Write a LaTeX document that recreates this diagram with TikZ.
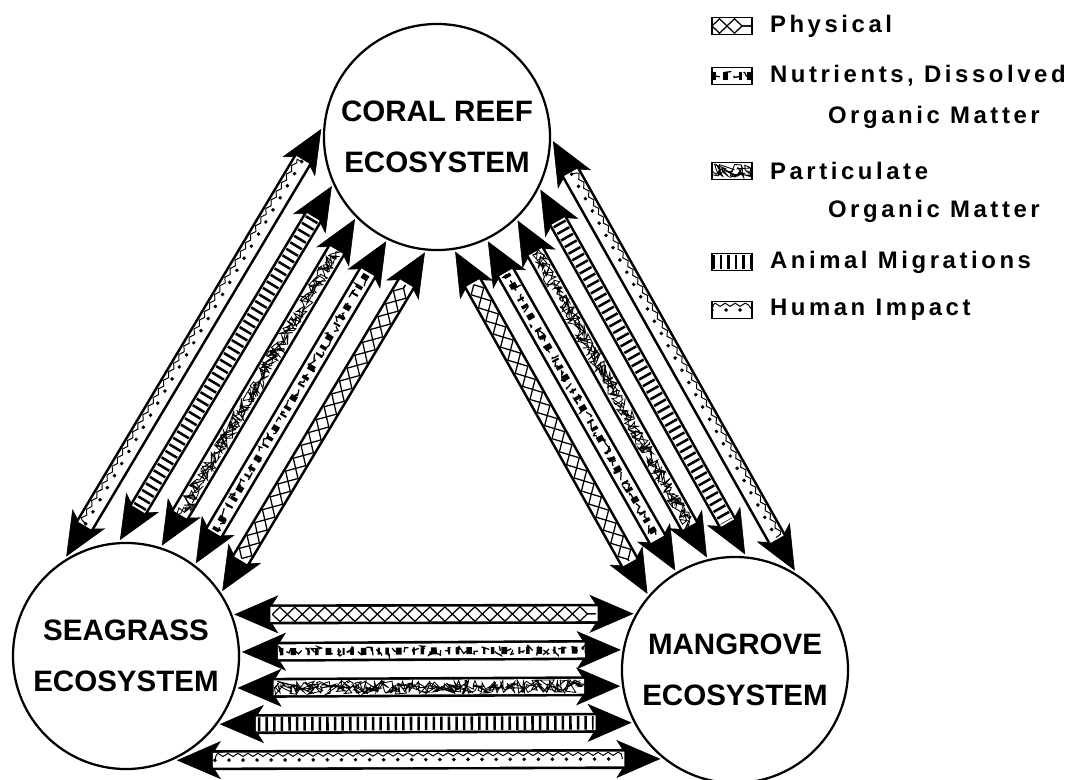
\documentclass[tikz,border=0pt]{standalone}
\usepackage{fontspec}
\setmainfont{Liberation Sans}
\newfontfamily\legendfont[LetterSpace=15]{Liberation Sans}
\usetikzlibrary{arrows.meta, positioning, calc, decorations.pathmorphing}

\tikzset{
  head/.tip={Stealth[length=1.1cm,width=0.95cm,inset=0.3cm,line width=0.4pt]},
  eco/.style={circle,draw,line width=1.6pt,minimum size=5.65cm,inner sep=0pt,
    outer sep=0.075cm,align=center,font=\fontsize{21}{36}\selectfont\bfseries},
  band/.style={line width=0.5cm,head-head},
  bandin/.style={line width=0.37cm,white},
  zz/.style={line width=0.9pt,decorate,
    decoration={zigzag,amplitude=0.18cm,segment length=0.75cm}},
  spots/.style={line width=5pt,dash pattern=on 2.5pt off 5pt on 4pt off 8pt on 1.5pt off 4pt},
  squig/.style={line width=0.9pt,dash pattern=on 6pt off 4pt,decorate,
    decoration={random steps,segment length=2.5pt,amplitude=0.13cm}},
  scribble/.style={line width=0.6pt,decorate,
    decoration={random steps,segment length=1.1pt,amplitude=0.17cm}},
  rungs/.style={line width=0.34cm,dash pattern=on 1.8pt off 3.6pt},
  dotrow/.style={line width=2.8pt,line cap=round,dash pattern=on 0pt off 10pt},
  wave/.style={line width=0.7pt,decorate,
    decoration={snake,amplitude=0.04cm,segment length=0.25cm,raise=0.13cm}},
  icon/.style={draw,line width=1.2pt,minimum width=1cm,minimum height=0.43cm,
    inner sep=0pt,outer sep=0pt},
  legend/.style={inner sep=0pt,outer sep=0pt,
    font=\legendfont\fontsize{17}{20}\selectfont\bfseries}
}

% fill patterns of the bands
\newcommand\physpat[2]{\draw[zz] (#1) -- (#2); \draw[zz,decoration={mirror}] (#1) -- (#2);}
\newcommand\nutrpat[2]{\draw[spots] (#1) -- (#2); \draw[squig] (#1) -- (#2);}
\newcommand\partpat[2]{\draw[scribble] (#1) -- (#2); \draw[scribble] (#2) -- (#1);}
\newcommand\animpat[2]{\draw[rungs] (#1) -- (#2);}
\newcommand\humpat[2]{\draw[dotrow] (#1) -- (#2); \draw[wave] (#1) -- (#2);}

% double headed flux band between two border points
\newcommand\flux[3]{%
  \draw[band] (#1) -- (#2);
  \draw[bandin] ($(#1)!0.9cm!(#2)$) -- ($(#2)!0.9cm!(#1)$);
  \coordinate (p) at ($(#1)!0.95cm!(#2)$);
  \coordinate (q) at ($(#2)!0.95cm!(#1)$);
  #3{p}{q}}

\begin{document}
\begin{tikzpicture}[x=0.025cm,y=-0.025cm]
  \pgfmathsetseed{3}
  \useasboundingbox (0,0) rectangle (1080,780);

  \node[eco] (coral) at (437,137) {CORAL REEF\\ECOSYSTEM};
  \node[eco] (seagrass) at (126,656) {SEAGRASS\\ECOSYSTEM};
  \node[eco] (mangrove) at (735,670) {MANGROVE\\ECOSYSTEM};

  % seagrass -- coral reef
  \flux{seagrass.121.7}{coral.176.5}{\humpat}
  \flux{seagrass.93.2}{coral.205.0}{\animpat}
  \flux{seagrass.72.5}{coral.225.6}{\partpat}
  \flux{seagrass.53.6}{coral.244.5}{\nutrpat}
  \flux{seagrass.34.1}{coral.264.1}{\physpat}

  % coral reef -- mangrove
  \flux{coral.279.0}{mangrove.139.4}{\physpat}
  \flux{coral.296.7}{mangrove.121.7}{\nutrpat}
  \flux{coral.314.2}{mangrove.104.2}{\partpat}
  \flux{coral.333.3}{mangrove.85.1}{\animpat}
  \flux{coral.358.75}{mangrove.59.65}{\humpat}

  % seagrass -- mangrove
  \flux{seagrass.21.23}{mangrove.151.13}{\physpat}
  \flux{seagrass.2.72}{mangrove.170.32}{\nutrpat}
  \flux{seagrass.344.5}{mangrove.188.43}{\partpat}
  \flux{seagrass.324.42}{mangrove.207.47}{\animpat}
  \flux{seagrass.296.3}{mangrove.230.88}{\humpat}

  % legend
  \node[icon,path picture={\physpat{path picture bounding box.west}{path picture bounding box.east}}]
    (phys) at (732,26) {};
  \node[icon,path picture={\nutrpat{path picture bounding box.west}{path picture bounding box.east}}]
    (nutr) at (732,76) {};
  \node[icon,path picture={\partpat{path picture bounding box.west}{path picture bounding box.east}}]
    (part) at (732,171) {};
  \node[icon,path picture={\animpat{path picture bounding box.west}{path picture bounding box.east}}]
    (anim) at (732,262) {};
  \node[icon,path picture={\humpat{path picture bounding box.west}{path picture bounding box.east}}]
    (hum) at (732,310) {};
  \node[legend,right=0.45cm of phys] (physT) {Physical};
  \node[legend,right=0.45cm of nutr] (nutrT) {Nutrients, Dissolved};
  \node[legend,anchor=west] (nutrT2) at ($(nutrT.west)+(58,41)$) {Organic Matter};
  \node[legend,right=0.45cm of part] (partT) {Particulate};
  \node[legend,anchor=west] (partT2) at ($(partT.west)+(58,40)$) {Organic Matter};
  \node[legend,right=0.45cm of anim] (animT) {Animal Migrations};
  \node[legend,right=0.45cm of hum] (humT) {Human Impact};
\end{tikzpicture}
\end{document}
